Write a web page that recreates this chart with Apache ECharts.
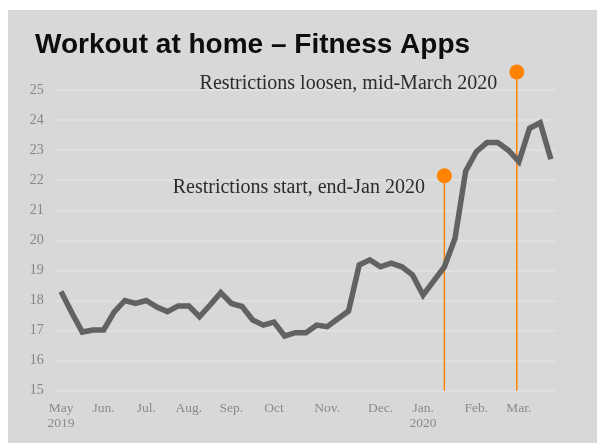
<!DOCTYPE html>
<html>
<head>
<meta charset="utf-8">
<script src="https://cdn.jsdelivr.net/npm/echarts@6/dist/echarts.min.js"></script>
<style>
  html, body { margin: 0; padding: 0; background: #ffffff; }
  #chart { width: 597px; height: 443px; }
</style>
</head>
<body>
<div id="chart"></div>
<script>
// Weekly usage index, May 2019 – March 2020
const weeklyIndex = [
  18.3, 17.6, 16.95, 17.02, 17.02, 17.62, 18.0, 17.9, 18.0, 17.78,
  17.63, 17.82, 17.82, 17.46, 17.85, 18.26, 17.9, 17.8, 17.35, 17.18,
  17.28, 16.82, 16.93, 16.93, 17.18, 17.13, 17.39, 17.65, 19.18, 19.35,
  19.12, 19.24, 19.12, 18.85, 18.18, 18.65, 19.12, 20.07, 22.3, 22.95,
  23.25, 23.25, 23.0, 22.62, 23.73, 23.91, 22.7
];

// Month labels and the week each one sits under
const monthLabels = ['May\n2019', 'Jun.', 'Jul.', 'Aug.', 'Sep.', 'Oct', 'Nov.', 'Dec.', 'Jan.\n2020', 'Feb.', 'Mar.'];
const monthWeeks  = [0, 4, 8, 12, 16, 20, 25, 30, 34, 39, 43];

// Event markers: week, height of the pin head, caption
const eventWeeks   = [36, 42.8];
const eventHeights = [22.15, 25.6];
const eventTexts   = ['Restrictions start, end-Jan 2020', 'Restrictions loosen, mid-March 2020'];

const yTicks = { min: 15, max: 25, step: 1 };

const weekCount = weeklyIndex.length;

const serif = "'Liberation Serif', 'DejaVu Serif', serif";
const orange = '#ff8200';

const eventSeries = eventWeeks.map((w, k) => ({
  type: 'line',
  clip: false,
  silent: true,
  z: 1,
  lineStyle: { color: orange, width: 1.5 },
  symbol: 'circle',
  symbolSize: 15,
  itemStyle: { color: orange },
  showSymbol: true,
  data: [
    { value: [w, yTicks.min], symbolSize: 0, label: { show: false } },
    {
      value: [w, eventHeights[k]],
      label: {
        show: true,
        position: 'left',
        distance: 12,
        offset: [0, 12],
        formatter: eventTexts[k],
        color: '#2b2b2b',
        fontFamily: serif,
        fontSize: 20
      }
    }
  ],
  animation: false
}));

const chart = echarts.init(document.getElementById('chart'), null, { renderer: 'canvas' });
chart.setOption({
  animation: false,
  backgroundColor: '#ffffff',
  graphic: [{
    type: 'rect',
    left: 8, top: 10,
    shape: { width: 589, height: 433 },
    style: { fill: '#d8d8d8' },
    z: -10
  }],
  title: {
    text: 'Workout at home – Fitness Apps',
    left: 30,
    top: 26,
    textStyle: {
      fontFamily: "'Liberation Sans', Arial, sans-serif",
      fontWeight: 'bold',
      fontSize: 28,
      color: '#0d0d0d'
    }
  },
  grid: { left: 55.7, right: 40.8, top: 90, bottom: 52.3, containLabel: false },
  xAxis: {
    type: 'value',
    min: -0.5,
    max: weekCount - 0.5,
    axisLine: { show: false },
    axisTick: { show: false },
    splitLine: { show: false },
    axisLabel: { show: false }
  },
  yAxis: {
    type: 'value',
    min: yTicks.min,
    max: yTicks.max,
    interval: yTicks.step,
    axisLine: { show: false },
    axisTick: { show: false },
    axisLabel: {
      margin: 12,
      color: '#858585',
      fontFamily: serif,
      fontSize: 14
    },
    splitLine: { lineStyle: { color: '#e2e2e2', width: 1.5 } }
  },
  series: [
    {
      type: 'line',
      data: weeklyIndex.map((v, i) => [i, v]),
      showSymbol: false,
      z: 3,
      lineStyle: { color: '#626262', width: 5.5, join: 'miter' },
      animation: false
    },
    {
      // month captions along the bottom, anchored to their weeks
      type: 'scatter',
      symbolSize: 0,
      silent: true,
      clip: false,
      data: monthWeeks.map((w, k) => ({ value: [w, yTicks.min], name: monthLabels[k] })),
      label: {
        show: true,
        position: 'bottom',
        distance: 10,
        formatter: p => p.name,
        color: '#777777',
        fontFamily: serif,
        fontSize: 13.5,
        lineHeight: 15,
        align: 'center'
      },
      animation: false
    }
  ].concat(eventSeries)
});
</script>
</body>
</html>
